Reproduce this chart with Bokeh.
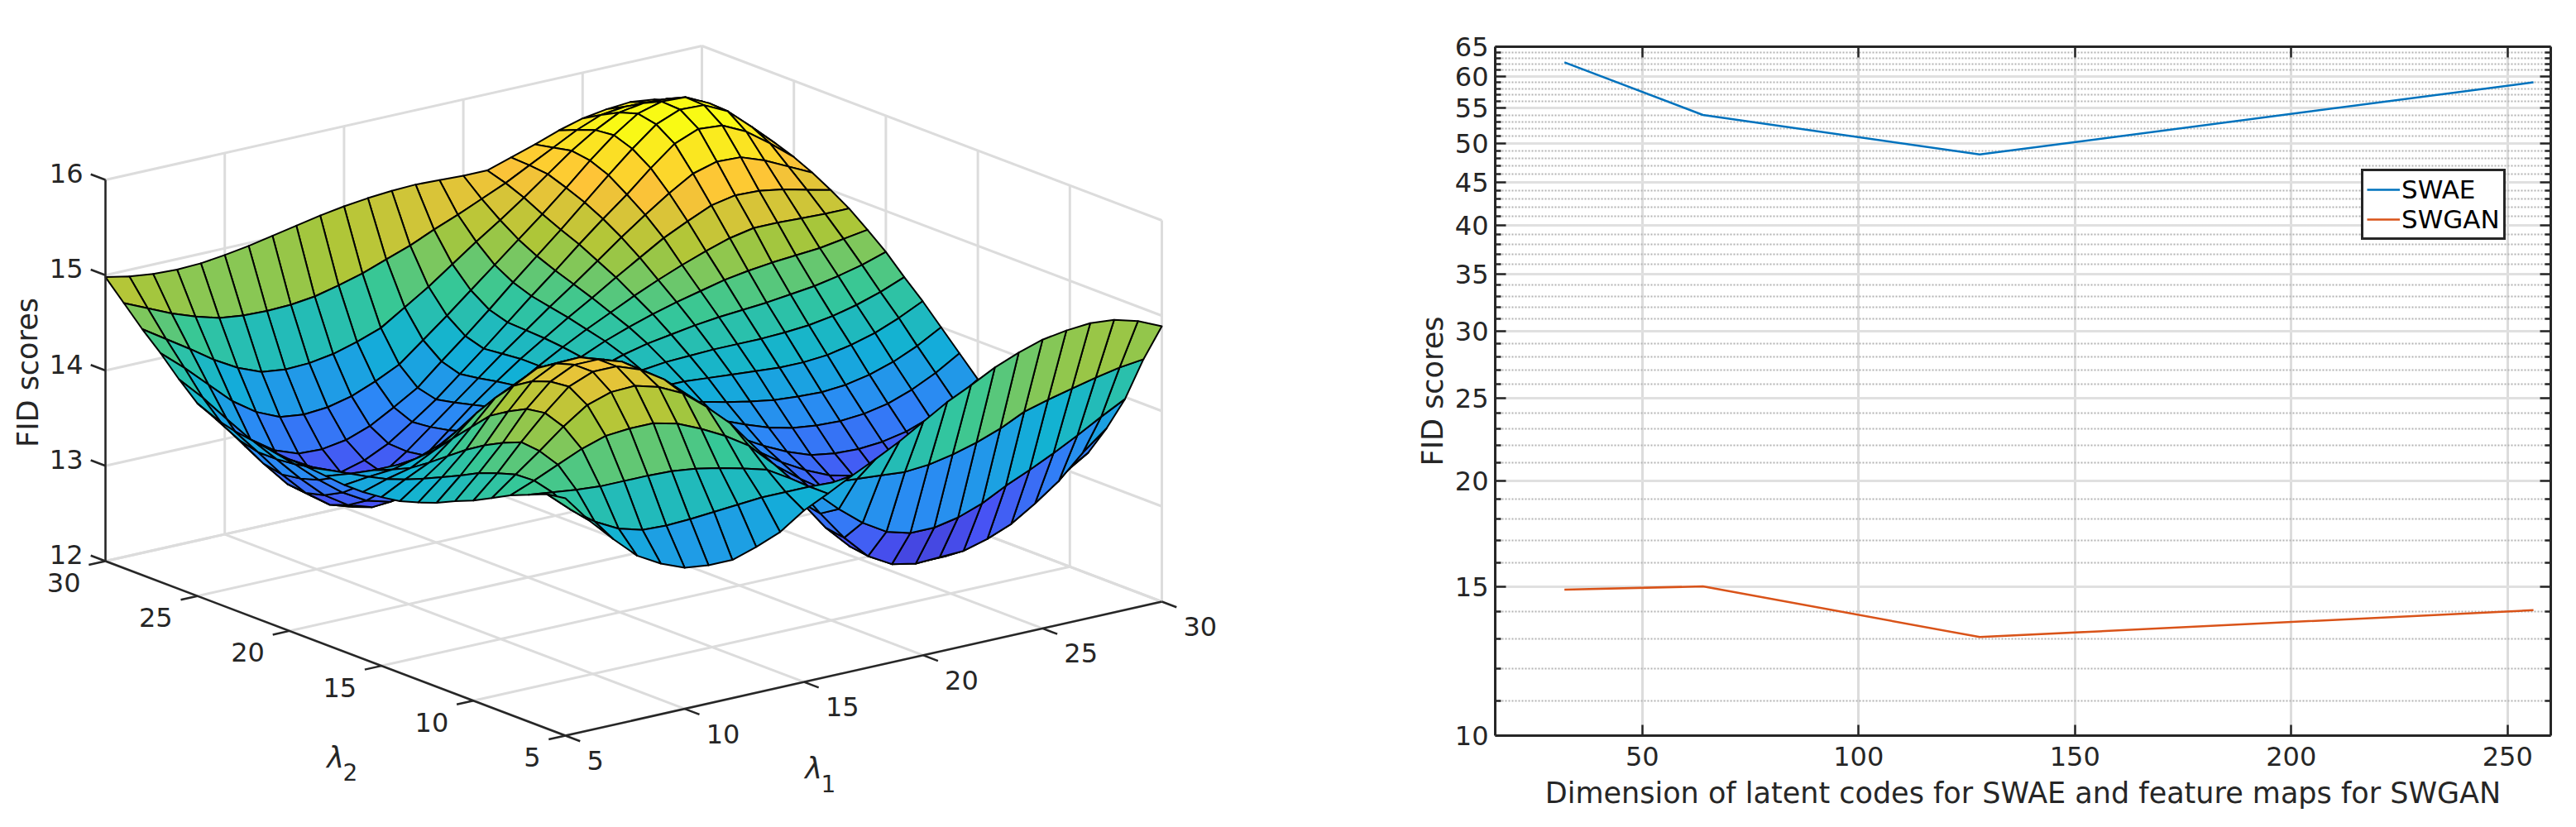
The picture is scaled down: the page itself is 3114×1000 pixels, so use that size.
from bokeh.core.properties import value
from bokeh.embed import file_html
from bokeh.layouts import column, row
from bokeh.models import (BasicTickFormatter, ColumnDataSource, FixedTicker, Legend, LegendItem,
                          LinearAxis, LogAxis)
from bokeh.plotting import figure
from bokeh.resources import INLINE

# left chart: FID scores over lambda1 (across) and lambda2 (down)
lambda_1 = list(range(5, 31))
lambda_2 = list(range(5, 31))
fid_surface = [
    [14.49,14.20,13.95,13.72,13.58,13.48,13.45,13.45,13.53,13.63,13.80,13.92,14.05,14.17,14.30,14.45,14.60,14.72,14.85,14.95,15.03,15.07,15.09,15.07,15.00,14.89],
    [14.46,14.24,14.06,13.93,13.86,13.85,13.86,13.88,13.90,13.92,13.92,13.92,13.91,13.89,13.87,13.85,13.87,13.92,13.99,14.08,14.20,14.27,14.33,14.39,14.44,14.47],
    [14.38,14.35,14.32,14.30,14.30,14.30,14.29,14.26,14.21,14.15,14.08,13.93,13.73,13.50,13.30,13.15,13.08,13.08,13.13,13.22,13.35,13.46,13.58,13.71,13.85,13.98],
    [14.30,14.40,14.51,14.62,14.70,14.72,14.72,14.66,14.55,14.42,14.26,14.02,13.72,13.38,13.07,12.82,12.68,12.63,12.64,12.65,12.72,12.82,12.98,13.16,13.40,13.60],
    [14.20,14.39,14.58,14.78,14.95,15.03,15.04,14.97,14.85,14.65,14.42,14.12,13.78,13.42,13.10,12.85,12.68,12.57,12.52,12.52,12.58,12.68,12.81,12.96,13.12,13.27],
    [14.10,14.33,14.60,14.85,15.07,15.17,15.17,15.08,14.92,14.70,14.47,14.20,13.92,13.62,13.31,13.05,12.85,12.70,12.60,12.55,12.56,12.62,12.70,12.79,12.91,13.03],
    [14.02,14.26,14.52,14.82,15.05,15.17,15.17,15.09,14.93,14.71,14.48,14.23,13.98,13.72,13.46,13.20,13.00,12.83,12.71,12.63,12.60,12.62,12.67,12.73,12.82,12.92],
    [13.93,14.16,14.42,14.72,14.98,15.11,15.12,15.04,14.88,14.68,14.45,14.22,14.00,13.78,13.55,13.30,13.10,12.92,12.79,12.71,12.68,12.69,12.73,12.78,12.86,12.95],
    [13.86,14.07,14.30,14.60,14.86,14.99,15.00,14.93,14.80,14.61,14.39,14.19,14.00,13.82,13.63,13.40,13.21,13.04,12.91,12.83,12.80,12.81,12.85,12.90,12.98,13.08],
    [13.80,13.98,14.16,14.41,14.66,14.78,14.80,14.75,14.64,14.48,14.30,14.13,13.98,13.83,13.68,13.48,13.31,13.17,13.06,13.00,12.97,12.98,13.02,13.09,13.20,13.32],
    [13.77,13.90,14.02,14.22,14.43,14.55,14.57,14.54,14.45,14.34,14.20,14.06,13.95,13.83,13.71,13.55,13.41,13.29,13.20,13.16,13.15,13.17,13.22,13.31,13.44,13.60],
    [13.75,13.83,13.89,14.02,14.18,14.28,14.30,14.28,14.24,14.18,14.10,14.01,13.93,13.85,13.77,13.66,13.56,13.47,13.41,13.38,13.37,13.39,13.44,13.53,13.65,13.80],
    [13.75,13.78,13.80,13.86,13.95,14.01,14.04,14.05,14.05,14.03,14.01,13.97,13.93,13.88,13.84,13.78,13.72,13.67,13.63,13.61,13.60,13.62,13.67,13.75,13.86,14.00],
    [13.77,13.74,13.72,13.72,13.74,13.77,13.81,13.85,13.89,13.92,13.94,13.94,13.93,13.93,13.92,13.92,13.90,13.88,13.86,13.84,13.84,13.86,13.91,13.98,14.08,14.20],
    [13.79,13.70,13.60,13.52,13.47,13.47,13.50,13.57,13.65,13.75,13.83,13.89,13.94,13.98,14.02,14.05,14.06,14.07,14.07,14.07,14.08,14.10,14.14,14.20,14.28,14.38],
    [13.80,13.66,13.50,13.36,13.25,13.20,13.24,13.35,13.48,13.62,13.75,13.85,13.94,14.03,14.11,14.17,14.21,14.25,14.28,14.30,14.32,14.35,14.38,14.43,14.49,14.57],
    [13.82,13.62,13.40,13.21,13.07,13.00,13.04,13.17,13.34,13.52,13.69,13.83,13.95,14.07,14.18,14.27,14.35,14.42,14.48,14.54,14.58,14.61,14.63,14.65,14.69,14.73],
    [13.85,13.60,13.34,13.11,12.95,12.87,12.91,13.05,13.24,13.44,13.64,13.81,13.96,14.10,14.23,14.35,14.47,14.58,14.68,14.77,14.85,14.90,14.90,14.89,14.88,14.88],
    [13.88,13.60,13.31,13.06,12.88,12.80,12.84,12.98,13.17,13.38,13.59,13.78,13.96,14.12,14.28,14.43,14.59,14.74,14.89,15.01,15.12,15.17,15.16,15.12,15.06,15.00],
    [13.93,13.65,13.35,13.08,12.90,12.83,12.86,12.97,13.14,13.34,13.54,13.74,13.94,14.13,14.32,14.50,14.69,14.88,15.06,15.23,15.38,15.45,15.44,15.35,15.23,15.11],
    [14.02,13.76,13.46,13.19,13.02,12.95,12.96,13.03,13.15,13.32,13.50,13.71,13.92,14.14,14.36,14.57,14.79,15.00,15.20,15.42,15.62,15.72,15.70,15.58,15.40,15.20],
    [14.20,13.95,13.67,13.40,13.23,13.14,13.13,13.17,13.26,13.40,13.55,13.77,13.98,14.20,14.43,14.65,14.87,15.10,15.33,15.55,15.75,15.85,15.84,15.72,15.50,15.27],
    [14.40,14.19,13.96,13.73,13.56,13.45,13.42,13.44,13.50,13.60,13.72,13.92,14.12,14.33,14.54,14.75,14.96,15.18,15.41,15.62,15.79,15.86,15.85,15.73,15.53,15.33],
    [14.58,14.42,14.26,14.09,13.95,13.85,13.82,13.83,13.87,13.94,14.03,14.19,14.35,14.53,14.71,14.88,15.06,15.25,15.44,15.60,15.73,15.77,15.76,15.67,15.52,15.38],
    [14.78,14.67,14.56,14.47,14.40,14.37,14.36,14.37,14.40,14.46,14.53,14.62,14.71,14.82,14.92,15.03,15.14,15.27,15.40,15.53,15.63,15.66,15.65,15.59,15.49,15.41],
    [14.98,14.93,14.90,14.89,14.90,14.93,14.97,15.02,15.07,15.12,15.16,15.19,15.21,15.22,15.21,15.20,15.20,15.28,15.36,15.45,15.52,15.56,15.58,15.55,15.49,15.42],
]
xy_ticks = [5, 10, 15, 20, 25, 30]
z_ticks = [12, 13, 14, 15, 16]

# right chart
dims = [32, 64, 128, 256]
swae_fid = [62.3, 54.0, 48.5, 59.0]
swgan_fid = [14.87, 15.0, 13.07, 14.06]
dim_ticks = [50, 100, 150, 200, 250]
fid_ticks = [10, 15, 20, 25, 30, 35, 40, 45, 50, 55, 60, 65]
fid_minor = [n for n in range(10, 66) if n % 5]

parula = [(.2422, .1504, .6603), (.2810, .3228, .9579), (.1786, .5289, .9682), (.0689, .6948, .8394),
          (.2161, .7843, .5923), (.6720, .7793, .2227), (.9970, .7659, .2199), (.9769, .9839, .0805)]

FONT = "DejaVu Sans"
INK = "#262626"
SIZE = "32px"


def proj(x, y, z):
    # screen pixels of a point in the 3d box (orthographic view from the x=5, y=5 corner)
    return (683 + 28.84 * (x - 5) - 22.24 * (y - 5),
            889 - 6.48 * (x - 5) - 8.44 * (y - 5) - 115.25 * (z - 12))


def colour(z, lo, hi):
    t = max(0, min(1, (z - lo) / (hi - lo))) * (len(parula) - 1)
    i = min(int(t), len(parula) - 2)
    t -= i
    rgb = [int(255 * (a + (b - a) * t)) for a, b in zip(parula[i], parula[i + 1])]
    return "#%02x%02x%02x" % tuple(rgb)


def lines(p, pairs, color, width):
    xs, ys = [], []
    for a, b in pairs:
        pa, pb = proj(*a), proj(*b)
        xs.append([pa[0], pb[0]])
        ys.append([pa[1], pb[1]])
    p.multi_line(xs, ys, line_color=color, line_width=width)


def labels(p, pts, texts, align, dx=0, dy=0, size=SIZE, **kw):
    p.text([q[0] + dx for q in pts], [q[1] + dy for q in pts], text=texts, text_align=align,
           text_baseline="middle", text_font=value(FONT), text_font_size=size, text_color=INK, **kw)


# ranges of the left figure are screen pixels
p3 = figure(width=1672, height=984, x_range=(0, 1672), y_range=(984, 0), output_backend="svg",
            toolbar_location=None, min_border=0, outline_line_color=None, title=None,
            x_axis_location=None, y_axis_location=None)
p3.grid.visible = False

grid = []
for v in xy_ticks:
    grid.append(((v, 5, 12), (v, 30, 12)))
    grid.append(((5, v, 12), (30, v, 12)))
    grid.append(((v, 30, 12), (v, 30, 16)))
    grid.append(((30, v, 12), (30, v, 16)))
for v in z_ticks:
    grid.append(((5, 30, v), (30, 30, v)))
    grid.append(((30, 30, v), (30, 5, v)))
lines(p3, grid, "#dcdcdc", 3)

# far cells first so the near ones paint over them
lo = min(min(r) for r in fid_surface)
hi = 15.7
qx, qy, qc = [], [], []
for i in range(len(lambda_1) - 2, -1, -1):
    for j in range(len(lambda_2) - 2, -1, -1):
        corners = [(i, j), (i + 1, j), (i + 1, j + 1), (i, j + 1)]
        pts = [proj(lambda_1[a], lambda_2[b], fid_surface[b][a]) for a, b in corners]
        qx.append([q[0] for q in pts])
        qy.append([q[1] for q in pts])
        qc.append(colour(sum(fid_surface[b][a] for a, b in corners) / 4, lo, hi))
p3.patches("xs", "ys", source=ColumnDataSource(dict(xs=qx, ys=qy, c=qc)), fill_color="c",
           line_color="black", line_width=2, line_join="round")

axes = [((5, 30, 12), (5, 30, 16)), ((5, 5, 12), (5, 30, 12)), ((5, 5, 12), (30, 5, 12))]
axes += [((5, 30, v), (5, 30.8, v)) for v in z_ticks]
axes += [((5, v, 12), (4.3, v, 12)) for v in xy_ticks]
axes += [((v, 5, 12), (v, 4.2, 12)) for v in xy_ticks]
lines(p3, axes, INK, 2.5)

labels(p3, [proj(5, 30, v) for v in z_ticks], [str(v) for v in z_ticks], "right", -27, -8)
labels(p3, [proj(5, v, 12) for v in xy_ticks], [str(v) for v in xy_ticks], "right", -30, 26)
labels(p3, [proj(v, 5, 12) for v in xy_ticks], [str(v) for v in xy_ticks], "left", 26, 30)
labels(p3, [(33, 450)], ["FID scores"], "center", size="35px", angle=1.5708)
labels(p3, [(983, 928)], ["λ"], "center", size="35px", text_font_style="italic")
labels(p3, [(1001, 947)], ["1"], "center", size="28px")
labels(p3, [(405, 915)], ["λ"], "center", size="35px", text_font_style="italic")
labels(p3, [(423, 933)], ["2"], "center", size="28px")

# right chart, frame at x 1807..3083 and y 56..889 of the screen
p2 = figure(width=1434, height=984, x_range=(16, 260), y_range=(10, 65), y_axis_type="log",
            output_backend="svg", toolbar_location=None, min_border_left=135, min_border_right=23,
            min_border_top=56, min_border_bottom=95, outline_line_color=None, title=None)
line_a = p2.line(dims, swae_fid, line_color="#0072BD", line_width=2.5)
line_b = p2.line(dims, swgan_fid, line_color="#D95319", line_width=2.5)

x_ticker = FixedTicker(ticks=dim_ticks)
y_ticker = FixedTicker(ticks=fid_ticks, minor_ticks=fid_minor)

p2.xaxis.ticker = x_ticker
p2.yaxis.ticker = y_ticker
p2.yaxis.formatter = BasicTickFormatter()
p2.xaxis.axis_label = "Dimension of latent codes for SWAE and feature maps for SWGAN"
p2.yaxis.axis_label = "FID scores"
p2.xaxis.major_label_standoff = 13
p2.yaxis.major_label_standoff = 8
p2.xaxis.axis_label_standoff = 10
p2.yaxis.axis_label_standoff = 4

# mirrored ticks on the top and right, their labels blanked
p2.add_layout(LinearAxis(ticker=x_ticker, major_label_overrides={t: "" for t in dim_ticks}), "above")
p2.add_layout(LogAxis(ticker=y_ticker, formatter=BasicTickFormatter(),
                      major_label_overrides={t: "" for t in fid_ticks}), "right")

for ax in p2.axis:
    ax.axis_line_color = INK
    ax.axis_line_width = 3
    ax.major_tick_line_color = INK
    ax.major_tick_line_width = 2.5
    ax.minor_tick_line_color = INK
    ax.minor_tick_line_width = 2.5
    ax.major_tick_in = 13
    ax.major_tick_out = 0
    ax.minor_tick_in = 7
    ax.minor_tick_out = 0
    ax.major_label_text_color = INK
    ax.major_label_text_font = FONT
    ax.major_label_text_font_size = SIZE
    ax.axis_label_text_color = INK
    ax.axis_label_text_font = FONT
    ax.axis_label_text_font_style = "normal"
    ax.axis_label_text_font_size = "35px"
p2.below[0].minor_tick_line_color = None
p2.above[0].minor_tick_line_color = None

p2.xgrid.ticker = x_ticker
p2.ygrid.ticker = y_ticker
p2.xgrid.grid_line_color = "#dcdcdc"
p2.xgrid.grid_line_width = 3
p2.ygrid.grid_line_color = "#e0e0e0"
p2.ygrid.grid_line_width = 3
p2.ygrid.minor_grid_line_color = "#b4b4b4"
p2.ygrid.minor_grid_line_width = 2
p2.ygrid.minor_grid_line_dash = "2 2"

legend = Legend(items=[LegendItem(label="SWAE", renderers=[line_a]), LegendItem(label="SWGAN", renderers=[line_b])],
                location=(1047, 599), orientation="vertical", padding=4, margin=0, spacing=0,
                glyph_width=40, glyph_height=36, label_height=36, label_standoff=2,
                label_text_font=FONT, label_text_font_size="31px", label_text_color="black",
                border_line_color=INK, border_line_alpha=1, border_line_width=3, background_fill_alpha=1)
p2.add_layout(legend)

# wrapped in a column so the row does not align the two frames
page = row(p3, column(p2), spacing=0)
open("out.html", "w").write(file_html(page, INLINE))
